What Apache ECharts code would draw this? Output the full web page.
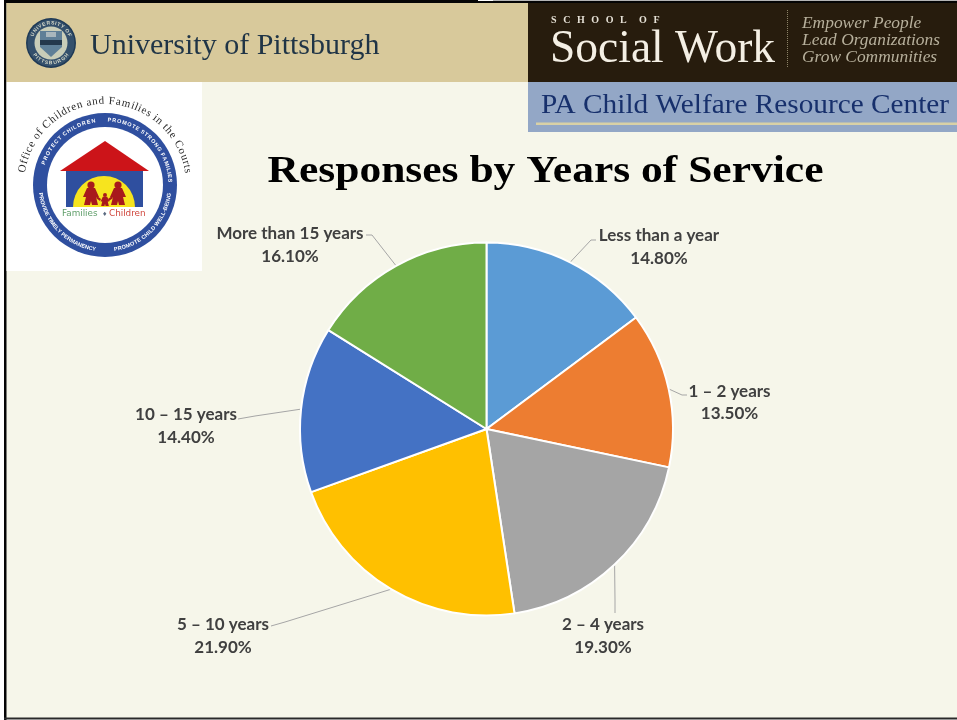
<!DOCTYPE html>
<html>
<head>
<meta charset="utf-8">
<title>Responses by Years of Service</title>
<style>
  html, body { margin: 0; padding: 0; background: #ffffff; }
  #chart { width: 957px; height: 720px; }
</style>
<script src="https://cdn.jsdelivr.net/npm/echarts@6/dist/echarts.min.js"></script>
</head>
<body>
<div id="chart"></div>
<script>
// Survey shares by length of service, in percent
const categories = ['Less than a year', '1 – 2 years', '2 – 4 years', '5 – 10 years', '10 – 15 years', 'More than 15 years'];
const shares = [14.8, 13.5, 19.3, 21.9, 14.4, 16.1];
const sliceColors = ['#5b9bd5', '#ed7d31', '#a5a5a5', '#ffc000', '#4472c4', '#70ad47'];

// Where each label sits and how its leader line bends on the way there
const labelPlacement = [
  { x: 659, y: 247, elbow: [591, 240], end: [596, 240] },
  { x: 729.5, y: 402.5, elbow: [682, 395], end: [687, 395] },
  { x: 603, y: 636, elbow: [615, 600], end: [615, 613] },
  { x: 223, y: 636, elbow: [285, 622], end: [271, 626] },
  { x: 186, y: 426, elbow: [255, 416], end: [238, 419] },
  { x: 290, y: 245, elbow: [372, 235], end: [366, 235] }
];

const serif = '"Liberation Serif", serif';
const graphics = [];
const ruler = document.createElement('canvas').getContext('2d');

function rect(x, y, w, h, fill, z) {
  graphics.push({ type: 'rect', silent: true, z: z || 1, shape: { x, y, width: w, height: h }, style: { fill } });
}
function circle(cx, cy, r, fill, z) {
  graphics.push({ type: 'circle', silent: true, z: z || 2, shape: { cx, cy, r }, style: { fill } });
}
function poly(points, fill, z) {
  graphics.push({ type: 'polygon', silent: true, z: z || 2, shape: { points }, style: { fill } });
}
function text(str, x, y, font, fill, align, z, stretch) {
  graphics.push({
    type: 'text', silent: true, z: z || 3, x, y, scaleX: stretch || 1,
    style: { text: str, font, fill, textAlign: align || 'left', textVerticalAlign: 'middle' }
  });
}
// Writes a string with a fixed gap added after every glyph
function spaced(str, x, y, font, fill, gap) {
  ruler.font = font;
  let pen = x;
  Array.from(str).forEach(ch => {
    text(ch, pen, y, font, fill, 'left', 4);
    pen += ruler.measureText(ch).width + gap;
  });
}
// Places a string along a circle with proportional glyph spacing.
// Angles run clockwise from 12 o'clock; underside text reads left to right along the bottom.
function arcText(str, cx, cy, r, from, to, font, fill, underside) {
  ruler.font = font;
  const chars = Array.from(str);
  const widths = chars.map(ch => ruler.measureText(ch).width);
  const total = widths.reduce((a, b) => a + b, 0);
  let run = 0;
  chars.forEach((ch, i) => {
    const mid = (run + widths[i] / 2) / total;
    run += widths[i];
    const a = (from + (to - from) * mid) * Math.PI / 180;
    graphics.push({
      type: 'text', silent: true, z: 4,
      x: cx + r * Math.sin(a), y: cy - r * Math.cos(a),
      rotation: underside ? -(a - Math.PI) : -a,
      style: { text: ch, font, fill, textAlign: 'center', textVerticalAlign: 'middle' }
    });
  });
}

// Slide background, frame and header bands
rect(0, 0, 957, 720, '#ffffff', 0);
rect(6, 3, 951, 715, '#f6f6ea', 1);
rect(4, 0, 2.5, 720, '#050505', 2);
rect(4, 0, 474, 3, '#050505', 2);
rect(478, 1, 479, 2, '#050505', 2);
rect(493, 0, 464, 1, '#b5b5b5', 2);
rect(477, 0, 1, 3, '#050505', 2);
rect(4, 717.5, 953, 2, '#2a2a2a', 2);
rect(6.5, 3, 522, 79, '#d8c99b', 2);
rect(528, 3, 429, 79, '#271c0d', 2);
rect(528, 82, 429, 50, '#93a7c6', 2);
rect(536, 122.5, 421, 2.5, '#d9d1a6', 3);
rect(6.5, 82, 195.5, 189, '#ffffff', 2);

// University wordmark and seal
circle(51, 43, 25, '#1f3a56', 3);
circle(51, 43, 23.5, '#34506c', 3);
circle(51, 43, 16.5, '#c9cdb8', 4);
arcText('UNIVERSITY OF', 51, 43, 20, -72, 72, 'bold 5px "Liberation Sans"', '#d9dccb');
arcText('PITTSBURGH', 51, 43, 20, 238, 122, 'bold 5px "Liberation Sans"', '#d9dccb', true);
poly([[40, 31], [62, 31], [62, 47], [51, 57], [40, 47]], '#5f7f97', 5);
rect(40, 40, 22, 5, '#24384c', 6);
rect(46, 32, 10, 5, '#a9b7bd', 6);
text('University of Pittsburgh', 90, 46, '30px ' + serif, '#1f3446');

// School block
spaced('SCHOOL', 551, 20, 'bold 10px ' + serif, '#e6e1d6', 6.6);
spaced('OF', 639, 20, 'bold 10px ' + serif, '#e6e1d6', 6.6);
text('Social Work', 550, 50, '45.5px ' + serif, '#f4efe4');
for (let y = 10; y < 68; y += 2) rect(787, y, 1, 1, '#8d8468', 4);
const tagFont = 'italic 16px ' + serif;
text('Empower People', 802, 24, tagFont, '#b7b09c', 'left', 3, 1.087);
text('Lead Organizations', 802, 41, tagFont, '#b7b09c', 'left', 3, 1.087);
text('Grow Communities', 802, 58, tagFont, '#b7b09c', 'left', 3, 1.087);
text('PA Child Welfare Resource Center', 541, 106, '28px ' + serif, '#17306c', 'left', 3, 1.046);

// Court programme badge
arcText('Office of Children and Families in the Courts', 105, 185, 84, -82, 82, '11px ' + serif, '#2a2a2a');
circle(105, 185, 72, '#2f4f9f', 3);
circle(105, 185, 58, '#ffffff', 4);
const ringFont = 'bold 5.5px "Liberation Sans"';
arcText('PROTECT CHILDREN', 105, 185, 65, -72, -8, ringFont, '#ffffff');
arcText('PROMOTE STRONG FAMILIES', 105, 185, 65, 2, 88, ringFont, '#ffffff');
arcText('PROVIDE TIMELY PERMANENCY', 105, 185, 65, 263, 188, ringFont, '#ffffff', true);
arcText('PROMOTE CHILD WELL-BEING', 105, 185, 65, 172, 97, ringFont, '#ffffff', true);
rect(66, 171, 77, 36, '#2f4f9f', 5);
poly([[105, 141], [149, 171], [60, 171]], '#cc1419', 6);
graphics.push({
  type: 'sector', silent: true, z: 6,
  shape: { cx: 104, cy: 207, r: 31, r0: 0, startAngle: Math.PI, endAngle: 2 * Math.PI },
  style: { fill: '#f7e41e' }
});
// Family silhouettes holding hands under the roof
[[91, 185, 1], [118, 185, 1], [105, 195, 0.55]].forEach(([px, py, s]) => {
  circle(px, py, 3.6 * s, '#a8191c', 7);
  poly([
    [px - 4 * s, py + 3 * s], [px + 4 * s, py + 3 * s], [px + 8 * s, py + 12 * s],
    [px + 5 * s, py + 12 * s], [px + 7 * s, py + 20 * s], [px + 1 * s, py + 20 * s],
    [px, py + 16 * s], [px - 1 * s, py + 20 * s], [px - 7 * s, py + 20 * s],
    [px - 5 * s, py + 12 * s], [px - 8 * s, py + 12 * s]
  ], '#a8191c', 7);
});
poly([[97, 196], [101, 199], [100, 201], [96, 198]], '#a8191c', 7);
poly([[112, 196], [108, 199], [109, 201], [113, 198]], '#a8191c', 7);
text('Families', 62, 214, '8.8px "DejaVu Sans"', '#5f9e6a', 'left', 7);
text('\u2666', 102, 214, '6px "DejaVu Sans"', '#5a6a80', 'left', 7);
text('Children', 109, 214, '8.8px "DejaVu Sans"', '#d0463c', 'left', 7);

// Slide heading
text('Responses by Years of Service', 545.5, 172, 'bold 38px ' + serif, '#000000', 'center', 5, 1.145);

const option = {
  animation: false,
  backgroundColor: 'transparent',
  graphic: { elements: graphics },
  color: sliceColors,
  series: [{
    type: 'pie',
    center: [486.5, 429],
    radius: [0, 186.5],
    startAngle: 90,
    clockwise: true,
    silent: true,
    z: 10,
    itemStyle: { borderColor: '#ffffff', borderWidth: 2 },
    label: {
      show: true,
      formatter: p => p.name + '\n' + p.value.toFixed(2) + '%',
      fontFamily: 'Lato',
      fontWeight: 'bold',
      fontSize: 17,
      color: '#404040',
      lineHeight: 22.5,
      align: 'center'
    },
    labelLine: { show: true, length: 10, length2: 10, lineStyle: { color: '#a6a6a6', width: 1 } },
    labelLayout: p => {
      const spot = labelPlacement[p.dataIndex];
      return {
        x: spot.x, y: spot.y, align: 'center', verticalAlign: 'middle',
        labelLinePoints: [p.labelLinePoints[0], spot.elbow, spot.end]
      };
    },
    data: categories.map((name, i) => ({ name, value: shares[i] }))
  }]
};

echarts.init(document.getElementById('chart'), null, { renderer: 'canvas' }).setOption(option);
</script>
</body>
</html>
